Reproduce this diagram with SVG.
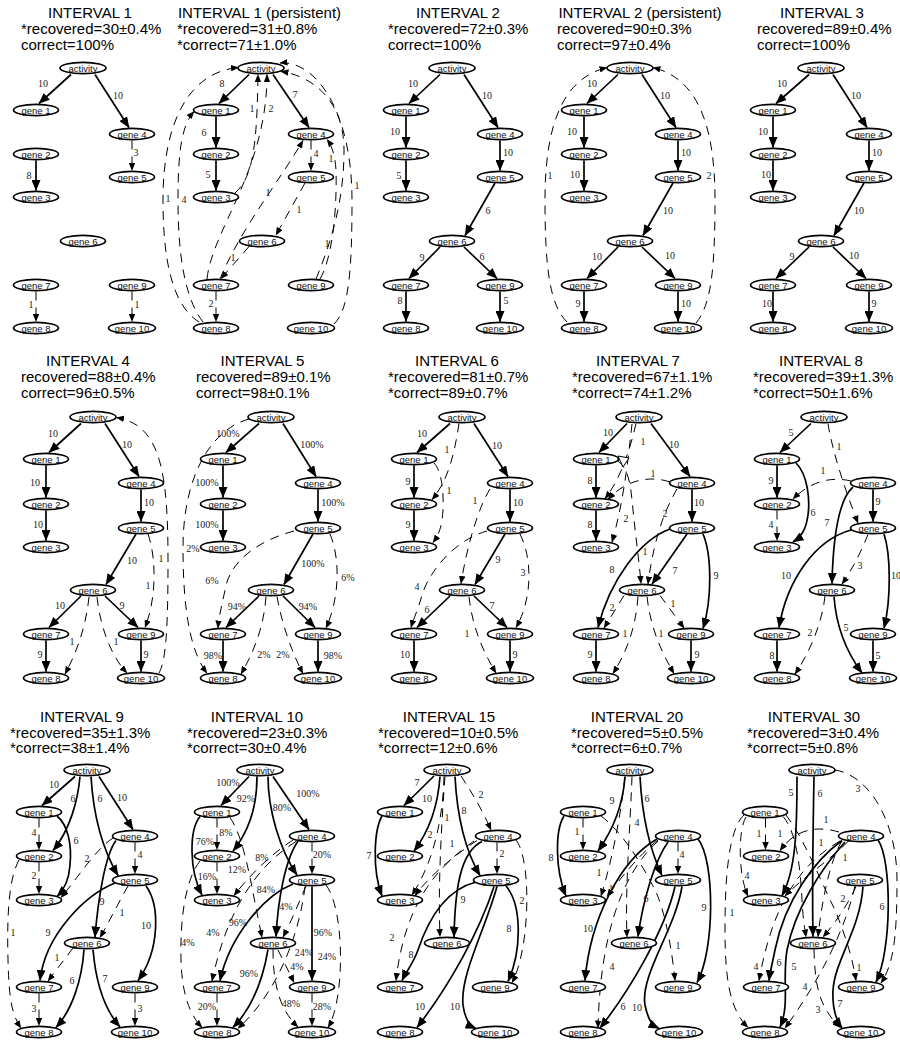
<svg xmlns="http://www.w3.org/2000/svg" width="900" height="1051" viewBox="0 0 900 1051">
<defs>
<style>
.s{fill:none;stroke:#000;stroke-width:1.7;marker-end:url(#as)}
.d{fill:none;stroke:#000;stroke-width:1;stroke-dasharray:9,7;marker-end:url(#ad)}
.nd ellipse{fill:#fff;stroke:#000;stroke-width:1.7}
.nd text{font-family:"Liberation Sans",Arial,sans-serif;font-size:9.5px;text-anchor:middle;dominant-baseline:central;fill:#111}
.l{font-family:"Liberation Serif","Times New Roman",serif;font-size:10px;text-anchor:middle;dominant-baseline:central;fill:#222}
.t{font-family:"Liberation Sans",Arial,sans-serif;font-size:15px;fill:#000}
.tc{text-anchor:middle}
</style>
<marker id="as" viewBox="0 0 11 9" refX="10.5" refY="4.5" markerWidth="11" markerHeight="9" orient="auto" markerUnits="userSpaceOnUse"><path d="M0,0 L11,4.5 L0,9 z" fill="#000"/></marker>
<marker id="ad" viewBox="0 0 8 6.5" refX="7.5" refY="3.25" markerWidth="8" markerHeight="6.5" orient="auto" markerUnits="userSpaceOnUse"><path d="M0,0 L8,3.25 L0,6.5 z" fill="#000"/></marker>
</defs>
<rect width="900" height="1051" fill="#fff"/>

<!-- PANEL 1 -->
<g id="panel1">
<text class="t tc" x="90" y="18">INTERVAL 1</text><text class="t" x="21" y="34">*recovered=30±0.4%</text><text class="t" x="21" y="49.5">correct=100%</text>
<g id="p1-edges">
<path class="s" d="M71,74.5 L39,103.5"/><text class="l" x="43" y="83">10</text>
<path class="s" d="M95,74.5 L129,127.5"/><text class="l" x="118" y="95">10</text>
<path class="s" d="M36,160.5 L36,190.5"/><text class="l" x="29" y="175">8</text>
<path class="d" d="M132,140.5 L132,170.5"/><text class="l" x="136" y="152">3</text>
<path class="d" d="M36,291.5 L36,321.5"/><text class="l" x="31" y="304">1</text>
<path class="d" d="M132,291.5 L132,321.5"/><text class="l" x="137" y="304">1</text>
</g>
<g id="p1-act" class="nd"><ellipse cx="83" cy="68" rx="23" ry="5.7"/><text x="83" y="68">activity</text></g>
<g id="p1-g1" class="nd"><ellipse cx="36" cy="110" rx="22.5" ry="5.7"/><text x="36" y="110">gene 1</text></g>
<g id="p1-g4" class="nd"><ellipse cx="132" cy="134" rx="22.5" ry="5.7"/><text x="132" y="134">gene 4</text></g>
<g id="p1-g2" class="nd"><ellipse cx="36" cy="154" rx="22.5" ry="5.7"/><text x="36" y="154">gene 2</text></g>
<g id="p1-g5" class="nd"><ellipse cx="132" cy="177" rx="22.5" ry="5.7"/><text x="132" y="177">gene 5</text></g>
<g id="p1-g3" class="nd"><ellipse cx="36" cy="197" rx="22.5" ry="5.7"/><text x="36" y="197">gene 3</text></g>
<g id="p1-g6" class="nd"><ellipse cx="83" cy="241" rx="22.5" ry="5.7"/><text x="83" y="241">gene 6</text></g>
<g id="p1-g7" class="nd"><ellipse cx="36" cy="285" rx="22.5" ry="5.7"/><text x="36" y="285">gene 7</text></g>
<g id="p1-g9" class="nd"><ellipse cx="132" cy="285" rx="22.5" ry="5.7"/><text x="132" y="285">gene 9</text></g>
<g id="p1-g8" class="nd"><ellipse cx="36" cy="328" rx="22.5" ry="5.7"/><text x="36" y="328">gene 8</text></g>
<g id="p1-g10" class="nd"><ellipse cx="132" cy="328" rx="23.5" ry="5.7"/><text x="132" y="328">gene 10</text></g>
</g>

<!-- PANEL 2 -->
<g id="panel2">
<text class="t tc" x="259.5" y="18">INTERVAL 1 (persistent)</text><text class="t" x="177" y="34">*recovered=31±0.8%</text><text class="t" x="177" y="49.5">*correct=71±1.0%</text>
<g id="p2-edges">
<path class="s" d="M249,74.5 L219,103.5"/><text class="l" x="222" y="83">8</text>
<path class="s" d="M273,74.5 L309,127.5"/><text class="l" x="295" y="94">7</text>
<path class="s" d="M216,116.5 L216,147.5"/><text class="l" x="204" y="132">6</text>
<path class="s" d="M216,160.5 L216,190.5"/><text class="l" x="208" y="174">5</text>
<path class="d" d="M311,140.5 L311,170.5"/><text class="l" x="316" y="153">4</text>
<path class="d" d="M305,183 L276,235"/><text class="l" x="299" y="209">1</text>
<path class="d" d="M249,246.5 L221,278.5"/><text class="l" x="233" y="257">1</text>
<path class="d" d="M216,291.5 L216,321.5"/><text class="l" x="211" y="303">2</text>
<path class="d" d="M235,193 C252,178 257,150 258,74.5"/><text class="l" x="252" y="108">1</text>
<path class="d" d="M207,279 C212,230 267,170 267,74.5"/><text class="l" x="271" y="108">2</text>
<path class="d" d="M220,279 C240,230 280,180 303,140.5"/><text class="l" x="268" y="192">1</text>
<path class="d" d="M199,322 C172,305 163,260 163,200 C163,120 190,72 238.5,67.5"/><text class="l" x="168" y="198">1</text>
<path class="d" d="M203,322 C186,300 178,260 178,200 C178,150 182,125 194,111.5"/><text class="l" x="184" y="199">4</text>
<path class="d" d="M320,279 C334,255 337,200 336,170 C335,155 332,146 327,139.5"/><text class="l" x="331" y="158">1</text>
<path class="d" d="M316,279 C332,240 344,200 344,150 C344,100 312,76 281,71.5"/><text class="l" x="327" y="243">1</text>
<path class="d" d="M334,324 C349,310 352,270 352,200 C352,110 315,60 280,63"/><text class="l" x="357" y="185">1</text>
</g>
<g id="p2-act" class="nd"><ellipse cx="261" cy="68" rx="23" ry="5.7"/><text x="261" y="68">activity</text></g>
<g id="p2-g1" class="nd"><ellipse cx="216" cy="110" rx="22.5" ry="5.7"/><text x="216" y="110">gene 1</text></g>
<g id="p2-g4" class="nd"><ellipse cx="311" cy="134" rx="22.5" ry="5.7"/><text x="311" y="134">gene 4</text></g>
<g id="p2-g2" class="nd"><ellipse cx="216" cy="154" rx="22.5" ry="5.7"/><text x="216" y="154">gene 2</text></g>
<g id="p2-g5" class="nd"><ellipse cx="311" cy="177" rx="22.5" ry="5.7"/><text x="311" y="177">gene 5</text></g>
<g id="p2-g3" class="nd"><ellipse cx="216" cy="197" rx="22.5" ry="5.7"/><text x="216" y="197">gene 3</text></g>
<g id="p2-g6" class="nd"><ellipse cx="262" cy="241" rx="22.5" ry="5.7"/><text x="262" y="241">gene 6</text></g>
<g id="p2-g7" class="nd"><ellipse cx="216" cy="285" rx="22.5" ry="5.7"/><text x="216" y="285">gene 7</text></g>
<g id="p2-g9" class="nd"><ellipse cx="311" cy="285" rx="22.5" ry="5.7"/><text x="311" y="285">gene 9</text></g>
<g id="p2-g8" class="nd"><ellipse cx="216" cy="328" rx="22.5" ry="5.7"/><text x="216" y="328">gene 8</text></g>
<g id="p2-g10" class="nd"><ellipse cx="311" cy="328" rx="23.5" ry="5.7"/><text x="311" y="328">gene 10</text></g>
</g>

<!-- PANEL 3 -->
<g id="panel3">
<text class="t tc" x="458" y="18">INTERVAL 2</text><text class="t" x="388" y="34">*recovered=72±0.3%</text><text class="t" x="388" y="49.5">correct=100%</text>
<g id="p3-edges">
<path class="s" d="M440,74.5 L409,103.5"/><text class="l" x="413" y="83">10</text>
<path class="s" d="M464,74.5 L498,127.5"/><text class="l" x="487" y="95">10</text>
<path class="s" d="M406,116.5 L406,147.5"/><text class="l" x="395" y="131">10</text>
<path class="s" d="M406,160.5 L406,190.5"/><text class="l" x="399" y="175">5</text>
<path class="s" d="M500,140.5 L500,170.5"/><text class="l" x="508" y="152">10</text>
<path class="s" d="M495,183 L465,235.5"/><text class="l" x="488" y="210">6</text>
<path class="s" d="M440,247 L409,278.5"/><text class="l" x="422" y="257">9</text>
<path class="s" d="M464,247 L497,278.5"/><text class="l" x="482" y="256">6</text>
<path class="s" d="M406,291.5 L406,321.5"/><text class="l" x="400" y="300">8</text>
<path class="s" d="M500,291.5 L500,321.5"/><text class="l" x="506" y="300">5</text>
</g>
<g id="p3-act" class="nd"><ellipse cx="452" cy="68" rx="23" ry="5.7"/><text x="452" y="68">activity</text></g>
<g id="p3-g1" class="nd"><ellipse cx="406" cy="110" rx="22.5" ry="5.7"/><text x="406" y="110">gene 1</text></g>
<g id="p3-g4" class="nd"><ellipse cx="500" cy="134" rx="22.5" ry="5.7"/><text x="500" y="134">gene 4</text></g>
<g id="p3-g2" class="nd"><ellipse cx="406" cy="154" rx="22.5" ry="5.7"/><text x="406" y="154">gene 2</text></g>
<g id="p3-g5" class="nd"><ellipse cx="500" cy="177" rx="22.5" ry="5.7"/><text x="500" y="177">gene 5</text></g>
<g id="p3-g3" class="nd"><ellipse cx="406" cy="197" rx="22.5" ry="5.7"/><text x="406" y="197">gene 3</text></g>
<g id="p3-g6" class="nd"><ellipse cx="452" cy="241" rx="22.5" ry="5.7"/><text x="452" y="241">gene 6</text></g>
<g id="p3-g7" class="nd"><ellipse cx="406" cy="285" rx="22.5" ry="5.7"/><text x="406" y="285">gene 7</text></g>
<g id="p3-g9" class="nd"><ellipse cx="500" cy="285" rx="22.5" ry="5.7"/><text x="500" y="285">gene 9</text></g>
<g id="p3-g8" class="nd"><ellipse cx="406" cy="328" rx="22.5" ry="5.7"/><text x="406" y="328">gene 8</text></g>
<g id="p3-g10" class="nd"><ellipse cx="500" cy="328" rx="23.5" ry="5.7"/><text x="500" y="328">gene 10</text></g>
</g>

<!-- PANEL 4 -->
<g id="panel4">
<text class="t tc" x="640" y="18">INTERVAL 2 (persistent)</text><text class="t" x="557" y="34">recovered=90±0.3%</text><text class="t" x="557" y="49.5">correct=97±0.4%</text>
<g id="p4-edges">
<path class="s" d="M618,74.5 L587,103.5"/><text class="l" x="592" y="83">10</text>
<path class="s" d="M642,74.5 L676,127.5"/><text class="l" x="665" y="95">10</text>
<path class="s" d="M584,116.5 L584,147.5"/><text class="l" x="572" y="131">10</text>
<path class="s" d="M584,160.5 L584,190.5"/><text class="l" x="575" y="174">10</text>
<path class="s" d="M678,140.5 L678,170.5"/><text class="l" x="686" y="152">10</text>
<path class="s" d="M673,183 L643,235.5"/><text class="l" x="668" y="210">10</text>
<path class="s" d="M618,247 L587,278.5"/><text class="l" x="597" y="256">10</text>
<path class="s" d="M642,247 L675,278.5"/><text class="l" x="670" y="255">10</text>
<path class="s" d="M584,291.5 L584,321.5"/><text class="l" x="578" y="303">9</text>
<path class="s" d="M678,291.5 L678,321.5"/><text class="l" x="686" y="303">10</text>
<path class="d" d="M567,322 C550,305 545,270 545,200 C545,120 565,78 607,67.5"/><text class="l" x="550" y="175">1</text>
<path class="d" d="M696,323 C711,305 715,270 715,200 C715,120 695,78 653,67.5"/><text class="l" x="709" y="175">2</text>
</g>
<g id="p4-act" class="nd"><ellipse cx="630" cy="68" rx="23" ry="5.7"/><text x="630" y="68">activity</text></g>
<g id="p4-g1" class="nd"><ellipse cx="584" cy="110" rx="22.5" ry="5.7"/><text x="584" y="110">gene 1</text></g>
<g id="p4-g4" class="nd"><ellipse cx="678" cy="134" rx="22.5" ry="5.7"/><text x="678" y="134">gene 4</text></g>
<g id="p4-g2" class="nd"><ellipse cx="584" cy="154" rx="22.5" ry="5.7"/><text x="584" y="154">gene 2</text></g>
<g id="p4-g5" class="nd"><ellipse cx="678" cy="177" rx="22.5" ry="5.7"/><text x="678" y="177">gene 5</text></g>
<g id="p4-g3" class="nd"><ellipse cx="584" cy="197" rx="22.5" ry="5.7"/><text x="584" y="197">gene 3</text></g>
<g id="p4-g6" class="nd"><ellipse cx="630" cy="241" rx="22.5" ry="5.7"/><text x="630" y="241">gene 6</text></g>
<g id="p4-g7" class="nd"><ellipse cx="584" cy="285" rx="22.5" ry="5.7"/><text x="584" y="285">gene 7</text></g>
<g id="p4-g9" class="nd"><ellipse cx="678" cy="285" rx="22.5" ry="5.7"/><text x="678" y="285">gene 9</text></g>
<g id="p4-g8" class="nd"><ellipse cx="584" cy="328" rx="22.5" ry="5.7"/><text x="584" y="328">gene 8</text></g>
<g id="p4-g10" class="nd"><ellipse cx="678" cy="328" rx="23.5" ry="5.7"/><text x="678" y="328">gene 10</text></g>
</g>

<!-- PANEL 5 -->
<g id="panel5">
<text class="t tc" x="822" y="18">INTERVAL 3</text><text class="t" x="757" y="34">recovered=89±0.4%</text><text class="t" x="757" y="49.5">correct=100%</text>
<g id="p5-edges">
<path class="s" d="M809,74.5 L776,103.5"/><text class="l" x="782" y="83">10</text>
<path class="s" d="M833,74.5 L867,127.5"/><text class="l" x="856" y="95">10</text>
<path class="s" d="M773,116.5 L773,147.5"/><text class="l" x="763" y="131">10</text>
<path class="s" d="M773,160.5 L773,190.5"/><text class="l" x="766" y="174">10</text>
<path class="s" d="M869,140.5 L869,170.5"/><text class="l" x="877" y="152">10</text>
<path class="s" d="M864,183 L834,235.5"/><text class="l" x="859" y="210">10</text>
<path class="s" d="M809,247 L776,278.5"/><text class="l" x="792" y="256">9</text>
<path class="s" d="M833,247 L866,278.5"/><text class="l" x="854" y="255">10</text>
<path class="s" d="M773,291.5 L773,321.5"/><text class="l" x="767" y="303">10</text>
<path class="s" d="M869,291.5 L869,321.5"/><text class="l" x="874" y="303">9</text>
</g>
<g id="p5-act" class="nd"><ellipse cx="821" cy="68" rx="23" ry="5.7"/><text x="821" y="68">activity</text></g>
<g id="p5-g1" class="nd"><ellipse cx="773" cy="110" rx="22.5" ry="5.7"/><text x="773" y="110">gene 1</text></g>
<g id="p5-g4" class="nd"><ellipse cx="869" cy="134" rx="22.5" ry="5.7"/><text x="869" y="134">gene 4</text></g>
<g id="p5-g2" class="nd"><ellipse cx="773" cy="154" rx="22.5" ry="5.7"/><text x="773" y="154">gene 2</text></g>
<g id="p5-g5" class="nd"><ellipse cx="869" cy="177" rx="22.5" ry="5.7"/><text x="869" y="177">gene 5</text></g>
<g id="p5-g3" class="nd"><ellipse cx="773" cy="197" rx="22.5" ry="5.7"/><text x="773" y="197">gene 3</text></g>
<g id="p5-g6" class="nd"><ellipse cx="821" cy="241" rx="22.5" ry="5.7"/><text x="821" y="241">gene 6</text></g>
<g id="p5-g7" class="nd"><ellipse cx="773" cy="285" rx="22.5" ry="5.7"/><text x="773" y="285">gene 7</text></g>
<g id="p5-g9" class="nd"><ellipse cx="869" cy="285" rx="22.5" ry="5.7"/><text x="869" y="285">gene 9</text></g>
<g id="p5-g8" class="nd"><ellipse cx="773" cy="328" rx="22.5" ry="5.7"/><text x="773" y="328">gene 8</text></g>
<g id="p5-g10" class="nd"><ellipse cx="869" cy="328" rx="23.5" ry="5.7"/><text x="869" y="328">gene 10</text></g>
</g>

<!-- PANEL 6 -->
<g id="panel6">
<text class="t tc" x="88" y="366">INTERVAL 4</text><text class="t" x="21" y="382">recovered=88±0.4%</text><text class="t" x="21" y="398">correct=96±0.5%</text>
<g id="p6-edges">
<path class="s" d="M81,423.5 L49,452.5"/><text class="l" x="53" y="433">10</text>
<path class="s" d="M105,423.5 L139,476.5"/><text class="l" x="127" y="444">10</text>
<path class="s" d="M46,465.5 L46,497.5"/><text class="l" x="35" y="482">10</text>
<path class="s" d="M46,510.5 L46,540.5"/><text class="l" x="38" y="524">10</text>
<path class="s" d="M141,489.5 L141,521.5"/><text class="l" x="149" y="502">10</text>
<path class="s" d="M136,534 L106,584.5"/><text class="l" x="132" y="560">10</text>
<path class="s" d="M81,596 L49,627.5"/><text class="l" x="60" y="605">10</text>
<path class="s" d="M105,596 L138,627.5"/><text class="l" x="122" y="605">9</text>
<path class="s" d="M46,640.5 L46,671.5"/><text class="l" x="40" y="654">9</text>
<path class="s" d="M141,640.5 L141,671.5"/><text class="l" x="146" y="654">9</text>
<path class="d" d="M159,673 C166,660 168,630 168,560 C168,470 160,425 116.5,417.5"/><text class="l" x="161" y="558">1</text>
<path class="d" d="M148,534 C157,560 156,600 145,627.5"/><text class="l" x="148" y="585">1</text>
<path class="d" d="M89,597 C86,625 78,650 65,674"/><text class="l" x="72" y="641">1</text>
<path class="d" d="M97,597 C100,625 110,655 127,673"/><text class="l" x="116" y="641">1</text>
</g>
<g id="p6-act" class="nd"><ellipse cx="93" cy="417" rx="23" ry="5.7"/><text x="93" y="417">activity</text></g>
<g id="p6-g1" class="nd"><ellipse cx="46" cy="459" rx="22.5" ry="5.7"/><text x="46" y="459">gene 1</text></g>
<g id="p6-g4" class="nd"><ellipse cx="141" cy="483" rx="22.5" ry="5.7"/><text x="141" y="483">gene 4</text></g>
<g id="p6-g2" class="nd"><ellipse cx="46" cy="504" rx="22.5" ry="5.7"/><text x="46" y="504">gene 2</text></g>
<g id="p6-g5" class="nd"><ellipse cx="141" cy="528" rx="22.5" ry="5.7"/><text x="141" y="528">gene 5</text></g>
<g id="p6-g3" class="nd"><ellipse cx="46" cy="547" rx="22.5" ry="5.7"/><text x="46" y="547">gene 3</text></g>
<g id="p6-g6" class="nd"><ellipse cx="93" cy="590" rx="22.5" ry="5.7"/><text x="93" y="590">gene 6</text></g>
<g id="p6-g7" class="nd"><ellipse cx="46" cy="634" rx="22.5" ry="5.7"/><text x="46" y="634">gene 7</text></g>
<g id="p6-g9" class="nd"><ellipse cx="141" cy="634" rx="22.5" ry="5.7"/><text x="141" y="634">gene 9</text></g>
<g id="p6-g8" class="nd"><ellipse cx="46" cy="678" rx="22.5" ry="5.7"/><text x="46" y="678">gene 8</text></g>
<g id="p6-g10" class="nd"><ellipse cx="141" cy="678" rx="23.5" ry="5.7"/><text x="141" y="678">gene 10</text></g>
</g>

<!-- PANEL 7 -->
<g id="panel7">
<text class="t tc" x="262.5" y="366">INTERVAL 5</text><text class="t" x="196" y="382">recovered=89±0.1%</text><text class="t" x="196" y="398">correct=98±0.1%</text>
<g id="p7-edges">
<path class="s" d="M259,423.5 L226,452.5"/><text class="l" x="228" y="433">100%</text>
<path class="s" d="M283,423.5 L316,476.5"/><text class="l" x="312" y="444">100%</text>
<path class="s" d="M223,465.5 L223,497.5"/><text class="l" x="207" y="482">100%</text>
<path class="s" d="M223,510.5 L223,540.5"/><text class="l" x="207" y="524">100%</text>
<path class="s" d="M318,489.5 L318,521.5"/><text class="l" x="333" y="502">100%</text>
<path class="s" d="M313,534 L284,584.5"/><text class="l" x="313" y="563">100%</text>
<path class="s" d="M259,596 L226,627.5"/><text class="l" x="237" y="606">94%</text>
<path class="s" d="M283,596 L315,627.5"/><text class="l" x="308" y="606">94%</text>
<path class="s" d="M223,640.5 L223,671.5"/><text class="l" x="213" y="655">98%</text>
<path class="s" d="M318,640.5 L318,671.5"/><text class="l" x="333" y="655">98%</text>
<path class="d" d="M249,419 C215,428 183,470 183,548 C183,620 193,655 207,673"/><text class="l" x="193" y="548">2%</text>
<path class="d" d="M294,531 C260,540 230,560 225,590 C222,605 219,615 218,628"/><text class="l" x="212" y="580">6%</text>
<path class="d" d="M330,534 C341,560 339,600 326,628"/><text class="l" x="348" y="577">6%</text>
<path class="d" d="M266,596.5 C264,625 255,650 241,674"/><text class="l" x="264" y="654">2%</text>
<path class="d" d="M277,596.5 C282,625 293,655 303,673.5"/><text class="l" x="283" y="654">2%</text>
</g>
<g id="p7-act" class="nd"><ellipse cx="271" cy="417" rx="23" ry="5.7"/><text x="271" y="417">activity</text></g>
<g id="p7-g1" class="nd"><ellipse cx="223" cy="459" rx="22.5" ry="5.7"/><text x="223" y="459">gene 1</text></g>
<g id="p7-g4" class="nd"><ellipse cx="318" cy="483" rx="22.5" ry="5.7"/><text x="318" y="483">gene 4</text></g>
<g id="p7-g2" class="nd"><ellipse cx="223" cy="504" rx="22.5" ry="5.7"/><text x="223" y="504">gene 2</text></g>
<g id="p7-g5" class="nd"><ellipse cx="318" cy="528" rx="22.5" ry="5.7"/><text x="318" y="528">gene 5</text></g>
<g id="p7-g3" class="nd"><ellipse cx="223" cy="547" rx="22.5" ry="5.7"/><text x="223" y="547">gene 3</text></g>
<g id="p7-g6" class="nd"><ellipse cx="271" cy="590" rx="22.5" ry="5.7"/><text x="271" y="590">gene 6</text></g>
<g id="p7-g7" class="nd"><ellipse cx="223" cy="634" rx="22.5" ry="5.7"/><text x="223" y="634">gene 7</text></g>
<g id="p7-g9" class="nd"><ellipse cx="318" cy="634" rx="22.5" ry="5.7"/><text x="318" y="634">gene 9</text></g>
<g id="p7-g8" class="nd"><ellipse cx="223" cy="678" rx="22.5" ry="5.7"/><text x="223" y="678">gene 8</text></g>
<g id="p7-g10" class="nd"><ellipse cx="318" cy="678" rx="23.5" ry="5.7"/><text x="318" y="678">gene 10</text></g>
</g>

<!-- PANEL 8 -->
<g id="panel8">
<text class="t tc" x="457" y="366">INTERVAL 6</text><text class="t" x="388" y="382">*recovered=81±0.7%</text><text class="t" x="388" y="398">*correct=89±0.7%</text>
<g id="p8-edges">
<path class="s" d="M450,423.5 L417,452.5"/><text class="l" x="422" y="433">10</text>
<path class="s" d="M474,423.5 L508,476.5"/><text class="l" x="497" y="445">10</text>
<path class="s" d="M414,465.5 L414,497.5"/><text class="l" x="408" y="481">9</text>
<path class="s" d="M414,510.5 L414,540.5"/><text class="l" x="408" y="524">9</text>
<path class="s" d="M510,489.5 L510,521.5"/><text class="l" x="518" y="502">10</text>
<path class="s" d="M505,534 L475,584.5"/><text class="l" x="498" y="559">9</text>
<path class="s" d="M450,596 L417,627.5"/><text class="l" x="427" y="609">6</text>
<path class="s" d="M474,596 L507,627.5"/><text class="l" x="492" y="605">7</text>
<path class="s" d="M414,640.5 L414,671.5"/><text class="l" x="405" y="654">10</text>
<path class="s" d="M510,640.5 L510,671.5"/><text class="l" x="515" y="654">9</text>
<path class="d" d="M459,423.5 C455,450 449,480 432,499.5"/><text class="l" x="447" y="449">1</text>
<path class="d" d="M434,463 C441,470 444,490 443,510 C442,525 440,533 433,542.5"/><text class="l" x="449" y="490">1</text>
<path class="d" d="M490,489 C480,505 468,540 461,583.5"/><text class="l" x="475" y="500">1</text>
<path class="d" d="M487,531 C455,540 430,570 422,595 C418,610 413,620 411,627.5"/><text class="l" x="417" y="586">4</text>
<path class="d" d="M520,534 C533,560 532,600 516,627.5"/><text class="l" x="523" y="572">3</text>
<path class="d" d="M469,596.5 C472,625 482,650 496,673"/><text class="l" x="467" y="633">1</text>
</g>
<g id="p8-act" class="nd"><ellipse cx="462" cy="417" rx="23" ry="5.7"/><text x="462" y="417">activity</text></g>
<g id="p8-g1" class="nd"><ellipse cx="414" cy="459" rx="22.5" ry="5.7"/><text x="414" y="459">gene 1</text></g>
<g id="p8-g4" class="nd"><ellipse cx="510" cy="483" rx="22.5" ry="5.7"/><text x="510" y="483">gene 4</text></g>
<g id="p8-g2" class="nd"><ellipse cx="414" cy="504" rx="22.5" ry="5.7"/><text x="414" y="504">gene 2</text></g>
<g id="p8-g5" class="nd"><ellipse cx="510" cy="528" rx="22.5" ry="5.7"/><text x="510" y="528">gene 5</text></g>
<g id="p8-g3" class="nd"><ellipse cx="414" cy="547" rx="22.5" ry="5.7"/><text x="414" y="547">gene 3</text></g>
<g id="p8-g6" class="nd"><ellipse cx="462" cy="590" rx="22.5" ry="5.7"/><text x="462" y="590">gene 6</text></g>
<g id="p8-g7" class="nd"><ellipse cx="414" cy="634" rx="22.5" ry="5.7"/><text x="414" y="634">gene 7</text></g>
<g id="p8-g9" class="nd"><ellipse cx="510" cy="634" rx="22.5" ry="5.7"/><text x="510" y="634">gene 9</text></g>
<g id="p8-g8" class="nd"><ellipse cx="414" cy="678" rx="22.5" ry="5.7"/><text x="414" y="678">gene 8</text></g>
<g id="p8-g10" class="nd"><ellipse cx="510" cy="678" rx="23.5" ry="5.7"/><text x="510" y="678">gene 10</text></g>
</g>

<!-- PANEL 9 -->
<g id="panel9">
<text class="t tc" x="638" y="366">INTERVAL 7</text><text class="t" x="572" y="382">*recovered=67±1.1%</text><text class="t" x="572" y="398">*correct=74±1.2%</text>
<g id="p9-edges">
<path class="s" d="M627,423.5 L599,452.5"/><text class="l" x="608" y="432">10</text>
<path class="s" d="M651,423.5 L690,476.5"/><text class="l" x="674" y="444">10</text>
<path class="s" d="M596,465.5 L596,497.5"/><text class="l" x="590" y="480">8</text>
<path class="s" d="M596,510.5 L596,540.5"/><text class="l" x="590" y="524">8</text>
<path class="s" d="M692,489.5 L692,521.5"/><text class="l" x="699" y="502">10</text>
<path class="s" d="M687,534 L652,584"/><text class="l" x="675" y="570">7</text>
<path class="s" d="M670,529 C640,540 610,580 598,627.5"/><text class="l" x="612" y="569">8</text>
<path class="s" d="M703,534 C712,555 712,600 703,628.5"/><text class="l" x="716" y="575">9</text>
<path class="s" d="M596,640.5 L596,671.5"/><text class="l" x="590" y="654">9</text>
<path class="s" d="M691,640.5 L691,671.5"/><text class="l" x="697" y="654">9</text>
<path class="d" d="M636,423.5 C630,450 620,480 605,498.5"/><text class="l" x="643" y="441">1</text>
<path class="d" d="M670,482 C650,475 625,480 608,499.5"/><text class="l" x="653" y="473">1</text>
<path class="d" d="M632,424 C628,460 624,500 612,542"/><text class="l" x="626" y="518">2</text>
<path class="d" d="M618,461 C630,470 631,490 633,510 C636,540 639,560 641,583.5"/><text class="l" x="645" y="551">1</text>
<polygon points="618,456 629,458 623,467" fill="#fff" stroke="#000" stroke-width="1"/>
<path class="d" d="M677,489 C668,505 655,530 648,584"/><text class="l" x="665" y="513">2</text>
<path class="d" d="M624,595.5 L604,628"/><text class="l" x="612" y="607">2</text>
<path class="d" d="M660,595.5 L684,628"/><text class="l" x="673" y="603">1</text>
<path class="d" d="M638,596.5 C636,625 628,650 613,673.5"/><text class="l" x="625" y="633">1</text>
<path class="d" d="M647,596.5 C650,625 660,650 674,673.5"/><text class="l" x="661" y="633">1</text>
</g>
<g id="p9-act" class="nd"><ellipse cx="639" cy="417" rx="23" ry="5.7"/><text x="639" y="417">activity</text></g>
<g id="p9-g1" class="nd"><ellipse cx="596" cy="459" rx="22.5" ry="5.7"/><text x="596" y="459">gene 1</text></g>
<g id="p9-g4" class="nd"><ellipse cx="692" cy="483" rx="22.5" ry="5.7"/><text x="692" y="483">gene 4</text></g>
<g id="p9-g2" class="nd"><ellipse cx="596" cy="504" rx="22.5" ry="5.7"/><text x="596" y="504">gene 2</text></g>
<g id="p9-g5" class="nd"><ellipse cx="692" cy="528" rx="22.5" ry="5.7"/><text x="692" y="528">gene 5</text></g>
<g id="p9-g3" class="nd"><ellipse cx="596" cy="547" rx="22.5" ry="5.7"/><text x="596" y="547">gene 3</text></g>
<g id="p9-g6" class="nd"><ellipse cx="642" cy="590" rx="22.5" ry="5.7"/><text x="642" y="590">gene 6</text></g>
<g id="p9-g7" class="nd"><ellipse cx="596" cy="634" rx="22.5" ry="5.7"/><text x="596" y="634">gene 7</text></g>
<g id="p9-g9" class="nd"><ellipse cx="691" cy="634" rx="22.5" ry="5.7"/><text x="691" y="634">gene 9</text></g>
<g id="p9-g8" class="nd"><ellipse cx="596" cy="678" rx="22.5" ry="5.7"/><text x="596" y="678">gene 8</text></g>
<g id="p9-g10" class="nd"><ellipse cx="691" cy="678" rx="23.5" ry="5.7"/><text x="691" y="678">gene 10</text></g>
</g>

<!-- PANEL 10 -->
<g id="panel10">
<text class="t tc" x="821" y="366">INTERVAL 8</text><text class="t" x="753" y="382">*recovered=39±1.3%</text><text class="t" x="753" y="398">*correct=50±1.6%</text>
<g id="p10-edges">
<path class="s" d="M811,423.5 L780,452.5"/><text class="l" x="791" y="432">5</text>
<path class="s" d="M777,465.5 L777,497.5"/><text class="l" x="771" y="480">9</text>
<path class="s" d="M796,463 C808,475 810,500 808,515 C806,530 801,537 793,542"/><text class="l" x="813" y="512">6</text>
<path class="s" d="M873,489.5 L873,521.5"/><text class="l" x="878" y="501">9</text>
<path class="s" d="M853,487 C838,500 833,540 832,583.5"/><text class="l" x="827" y="522">7</text>
<path class="s" d="M851,530 C815,540 787,580 779,627.5"/><text class="l" x="786" y="575">10</text>
<path class="s" d="M884,534 C891,555 891,600 884,628"/><text class="l" x="896" y="575">10</text>
<path class="s" d="M834,596.5 C836,625 845,650 862,673"/><text class="l" x="846" y="627">5</text>
<path class="s" d="M777,640.5 L777,671.5"/><text class="l" x="772" y="655">8</text>
<path class="s" d="M873,640.5 L873,671.5"/><text class="l" x="878" y="655">5</text>
<path class="d" d="M828,423.5 C832,450 845,490 858,523"/><text class="l" x="839" y="446">1</text>
<path class="d" d="M777,510.5 L777,540.5"/><text class="l" x="771" y="524">4</text>
<path class="d" d="M851,481 C830,476 810,482 793,499"/><text class="l" x="823" y="470">1</text>
<path class="d" d="M868,534.5 C862,550 852,570 842,584"/><text class="l" x="860" y="565">3</text>
<path class="d" d="M825,596 C822,625 808,655 795,674"/><text class="l" x="810" y="632">2</text>
</g>
<g id="p10-act" class="nd"><ellipse cx="824" cy="417" rx="23" ry="5.7"/><text x="824" y="417">activity</text></g>
<g id="p10-g1" class="nd"><ellipse cx="777" cy="459" rx="22.5" ry="5.7"/><text x="777" y="459">gene 1</text></g>
<g id="p10-g4" class="nd"><ellipse cx="873" cy="483" rx="22.5" ry="5.7"/><text x="873" y="483">gene 4</text></g>
<g id="p10-g2" class="nd"><ellipse cx="777" cy="504" rx="22.5" ry="5.7"/><text x="777" y="504">gene 2</text></g>
<g id="p10-g5" class="nd"><ellipse cx="873" cy="528" rx="22.5" ry="5.7"/><text x="873" y="528">gene 5</text></g>
<g id="p10-g3" class="nd"><ellipse cx="777" cy="547" rx="22.5" ry="5.7"/><text x="777" y="547">gene 3</text></g>
<g id="p10-g6" class="nd"><ellipse cx="832" cy="590" rx="22.5" ry="5.7"/><text x="832" y="590">gene 6</text></g>
<g id="p10-g7" class="nd"><ellipse cx="777" cy="634" rx="22.5" ry="5.7"/><text x="777" y="634">gene 7</text></g>
<g id="p10-g9" class="nd"><ellipse cx="873" cy="634" rx="22.5" ry="5.7"/><text x="873" y="634">gene 9</text></g>
<g id="p10-g8" class="nd"><ellipse cx="777" cy="678" rx="22.5" ry="5.7"/><text x="777" y="678">gene 8</text></g>
<g id="p10-g10" class="nd"><ellipse cx="873" cy="678" rx="23.5" ry="5.7"/><text x="873" y="678">gene 10</text></g>
</g>

<!-- PANEL 11 -->
<g id="panel11">
<text class="t tc" x="82" y="722">INTERVAL 9</text><text class="t" x="10" y="738">*recovered=35±1.3%</text><text class="t" x="10" y="753">*correct=38±1.4%</text>
<g id="p11-edges">
<path class="s" d="M75,776.5 L42,805.5"/><text class="l" x="54" y="784">10</text>
<path class="s" d="M80,776.5 C78,800 70,830 53,850.5"/><text class="l" x="73" y="798">6</text>
<path class="s" d="M91,776.5 C93,810 100,845 118,875.5"/><text class="l" x="100" y="798">6</text>
<path class="s" d="M99,776.5 L133,829.5"/><text class="l" x="122" y="797">10</text>
<path class="s" d="M57,816 C68,825 72,845 70,865 C69,880 65,889 57,896.5"/><text class="l" x="76" y="840">6</text>
<path class="s" d="M116,840.5 C105,855 98,900 95,937"/><text class="l" x="102" y="901">9</text>
<path class="s" d="M115,883 C85,895 45,935 40,980.5"/><text class="l" x="48" y="932">9</text>
<path class="s" d="M146,886 C160,905 160,950 138,980.5"/><text class="l" x="146" y="925">10</text>
<path class="s" d="M84,949.5 C82,980 72,1010 56,1027.5"/><text class="l" x="72" y="980">6</text>
<path class="s" d="M93,949.5 C96,985 105,1010 120,1027"/><text class="l" x="105" y="978">7</text>
<path class="d" d="M39,818.5 L39,849.5"/><text class="l" x="34" y="832">4</text>
<path class="d" d="M39,862.5 L39,893.5"/><text class="l" x="34" y="875">2</text>
<path class="d" d="M113,838 C95,850 80,875 61,897.5"/><text class="l" x="87" y="858">2</text>
<path class="d" d="M135,842.5 L135,873.5"/><text class="l" x="140" y="854">4</text>
<path class="d" d="M128,886 C120,900 110,920 100,937.5"/><text class="l" x="122" y="912">1</text>
<path class="d" d="M73,948 L48,981"/><text class="l" x="57" y="957">1</text>
<path class="d" d="M19,860 C8,880 7,920 8,960 C9,1000 12,1015 21,1028"/><text class="l" x="13" y="932">1</text>
<path class="d" d="M39,993.5 L39,1025.5"/><text class="l" x="34" y="1008">3</text>
<path class="d" d="M135,993.5 L135,1025.5"/><text class="l" x="140" y="1008">3</text>
</g>
<g id="p11-act" class="nd"><ellipse cx="87" cy="770" rx="23" ry="5.7"/><text x="87" y="770">activity</text></g>
<g id="p11-g1" class="nd"><ellipse cx="39" cy="812" rx="22.5" ry="5.7"/><text x="39" y="812">gene 1</text></g>
<g id="p11-g4" class="nd"><ellipse cx="135" cy="836" rx="22.5" ry="5.7"/><text x="135" y="836">gene 4</text></g>
<g id="p11-g2" class="nd"><ellipse cx="39" cy="856" rx="22.5" ry="5.7"/><text x="39" y="856">gene 2</text></g>
<g id="p11-g5" class="nd"><ellipse cx="135" cy="880" rx="22.5" ry="5.7"/><text x="135" y="880">gene 5</text></g>
<g id="p11-g3" class="nd"><ellipse cx="39" cy="900" rx="22.5" ry="5.7"/><text x="39" y="900">gene 3</text></g>
<g id="p11-g6" class="nd"><ellipse cx="87" cy="943" rx="22.5" ry="5.7"/><text x="87" y="943">gene 6</text></g>
<g id="p11-g7" class="nd"><ellipse cx="39" cy="987" rx="22.5" ry="5.7"/><text x="39" y="987">gene 7</text></g>
<g id="p11-g9" class="nd"><ellipse cx="135" cy="987" rx="22.5" ry="5.7"/><text x="135" y="987">gene 9</text></g>
<g id="p11-g8" class="nd"><ellipse cx="39" cy="1032" rx="22.5" ry="5.7"/><text x="39" y="1032">gene 8</text></g>
<g id="p11-g10" class="nd"><ellipse cx="135" cy="1032" rx="23.5" ry="5.7"/><text x="135" y="1032">gene 10</text></g>
</g>

<!-- PANEL 12 -->
<g id="panel12">
<text class="t tc" x="257" y="722">INTERVAL 10</text><text class="t" x="187" y="738">*recovered=23±0.3%</text><text class="t" x="187" y="753">*correct=30±0.4%</text>
<g id="p12-edges">
<path class="s" d="M249,776.5 L221,805.5"/><text class="l" x="228" y="782">100%</text>
<path class="s" d="M257,776.5 C257,805 250,830 233,851"/><text class="l" x="246" y="798">92%</text>
<path class="s" d="M268,776.5 C268,810 280,850 297,875"/><text class="l" x="282" y="807">80%</text>
<path class="s" d="M273,776.5 L309,829.5"/><text class="l" x="308" y="793">100%</text>
<path class="s" d="M200,816.5 C189,830 189,870 202,895"/><text class="l" x="205" y="841">76%</text>
<path class="s" d="M298,841 C285,860 278,900 276,936.5"/><text class="l" x="266" y="889">84%</text>
<path class="s" d="M293,884 C265,895 230,935 220,980.7"/><text class="l" x="238" y="922">96%</text>
<path class="s" d="M312,886.5 L312,980.5"/><text class="l" x="323" y="932">96%</text>
<path class="s" d="M268,949.5 C262,985 250,1010 233,1027.5"/><text class="l" x="249" y="973">96%</text>
<path class="d" d="M217,818.5 L217,849.5"/><text class="l" x="226" y="832">8%</text>
<path class="d" d="M230,817.5 C245,840 250,880 262,937.5"/><text class="l" x="237" y="869">12%</text>
<path class="d" d="M217,862.5 L217,893.5"/><text class="l" x="207" y="876">16%</text>
<path class="d" d="M293,840 C270,855 250,875 234,895.5"/><text class="l" x="262" y="857">8%</text>
<path class="d" d="M312,842.5 L312,873.5"/><text class="l" x="322" y="854">20%</text>
<path class="d" d="M296,841.5 C250,870 225,920 212,981"/><text class="l" x="213" y="932">4%</text>
<path class="d" d="M200,861 C185,880 180,920 181,960 C182,995 190,1015 202,1027.5"/><text class="l" x="188" y="942">4%</text>
<path class="d" d="M306,886 C300,900 292,920 283,937"/><text class="l" x="286" y="906">4%</text>
<path class="d" d="M305,886.5 C300,930 280,990 238,1028.5"/><text class="l" x="304" y="952">24%</text>
<path class="d" d="M326,885 C345,910 345,1000 328,1027.5"/><text class="l" x="327" y="956">24%</text>
<path class="d" d="M278,950 C283,960 288,970 294,982.5"/><text class="l" x="297" y="966">4%</text>
<path class="d" d="M273,949.5 C273,985 280,1010 298,1027"/><text class="l" x="291" y="1003">48%</text>
<path class="d" d="M217,993.5 L217,1025.5"/><text class="l" x="207" y="1006">20%</text>
<path class="d" d="M312,993.5 L312,1025.5"/><text class="l" x="322" y="1006">28%</text>
</g>
<g id="p12-act" class="nd"><ellipse cx="260" cy="770" rx="23" ry="5.7"/><text x="260" y="770">activity</text></g>
<g id="p12-g1" class="nd"><ellipse cx="217" cy="812" rx="22.5" ry="5.7"/><text x="217" y="812">gene 1</text></g>
<g id="p12-g4" class="nd"><ellipse cx="312" cy="836" rx="22.5" ry="5.7"/><text x="312" y="836">gene 4</text></g>
<g id="p12-g2" class="nd"><ellipse cx="217" cy="856" rx="22.5" ry="5.7"/><text x="217" y="856">gene 2</text></g>
<g id="p12-g5" class="nd"><ellipse cx="312" cy="880" rx="22.5" ry="5.7"/><text x="312" y="880">gene 5</text></g>
<g id="p12-g3" class="nd"><ellipse cx="217" cy="900" rx="22.5" ry="5.7"/><text x="217" y="900">gene 3</text></g>
<g id="p12-g6" class="nd"><ellipse cx="273" cy="943" rx="22.5" ry="5.7"/><text x="273" y="943">gene 6</text></g>
<g id="p12-g7" class="nd"><ellipse cx="217" cy="987" rx="22.5" ry="5.7"/><text x="217" y="987">gene 7</text></g>
<g id="p12-g9" class="nd"><ellipse cx="312" cy="987" rx="22.5" ry="5.7"/><text x="312" y="987">gene 9</text></g>
<g id="p12-g8" class="nd"><ellipse cx="217" cy="1032" rx="22.5" ry="5.7"/><text x="217" y="1032">gene 8</text></g>
<g id="p12-g10" class="nd"><ellipse cx="312" cy="1032" rx="23.5" ry="5.7"/><text x="312" y="1032">gene 10</text></g>
</g>

<!-- PANEL 13 -->
<g id="panel13">
<text class="t tc" x="449" y="722">INTERVAL 15</text><text class="t" x="378" y="738">*recovered=10±0.5%</text><text class="t" x="378" y="753">*correct=12±0.6%</text>
<g id="p13-edges">
<path class="s" d="M434,776 L404,805.5"/><text class="l" x="417" y="782">7</text>
<path class="s" d="M440,776.5 C438,805 430,830 414,851"/><text class="l" x="427" y="798">10</text>
<path class="s" d="M455,776.5 C457,815 465,850 480,875.5"/><text class="l" x="464" y="810">8</text>
<path class="s" d="M382,816 C374,830 372,870 382,896"/><text class="l" x="369" y="855">7</text>
<path class="s" d="M482,841.5 C460,852 455,890 454,937"/><text class="l" x="463" y="899">9</text>
<path class="s" d="M476,882 C445,890 428,920 418,950 C414,962 406,972 402,980.5"/><text class="l" x="411" y="954">8</text>
<path class="s" d="M494,886.5 C480,930 450,985 417,1027.5"/><text class="l" x="420" y="1006">10</text>
<path class="s" d="M506,886 C522,905 522,950 508,981.5"/><text class="l" x="509" y="928">8</text>
<path class="s" d="M497,886.5 C485,930 460,975 463,1005 C465,1020 470,1026 476,1028.5"/><text class="l" x="455" y="1006">10</text>
<path class="d" d="M461,776 C470,790 480,805 491,830"/><text class="l" x="481" y="794">2</text>
<path class="d" d="M497,842.5 L497,873.5"/><text class="l" x="502" y="853">2</text>
<path class="d" d="M516,840 C532,860 530,950 512,982.5"/><text class="l" x="522" y="900">2</text>
<path class="d" d="M477,840.5 C455,855 430,875 415,895.5"/><text class="l" x="452" y="843">1</text>
<path class="d" d="M444,776.5 C443,815 435,860 412,895"/><text class="l" x="430" y="834">2</text>
<path class="d" d="M445,776.5 C441,830 438,890 440,936.5"/><text class="l" x="447" y="817">1</text>
<path class="d" d="M474,841 C440,865 405,900 396,980.5"/><text class="l" x="392" y="937">2</text>
</g>
<g id="p13-act" class="nd"><ellipse cx="447" cy="770" rx="23" ry="5.7"/><text x="447" y="770">activity</text></g>
<g id="p13-g1" class="nd"><ellipse cx="400" cy="812" rx="22.5" ry="5.7"/><text x="400" y="812">gene 1</text></g>
<g id="p13-g4" class="nd"><ellipse cx="498" cy="836" rx="22.5" ry="5.7"/><text x="498" y="836">gene 4</text></g>
<g id="p13-g2" class="nd"><ellipse cx="400" cy="856" rx="22.5" ry="5.7"/><text x="400" y="856">gene 2</text></g>
<g id="p13-g5" class="nd"><ellipse cx="496" cy="880" rx="22.5" ry="5.7"/><text x="496" y="880">gene 5</text></g>
<g id="p13-g3" class="nd"><ellipse cx="400" cy="900" rx="22.5" ry="5.7"/><text x="400" y="900">gene 3</text></g>
<g id="p13-g6" class="nd"><ellipse cx="447" cy="943" rx="22.5" ry="5.7"/><text x="447" y="943">gene 6</text></g>
<g id="p13-g7" class="nd"><ellipse cx="400" cy="987" rx="22.5" ry="5.7"/><text x="400" y="987">gene 7</text></g>
<g id="p13-g9" class="nd"><ellipse cx="495" cy="987" rx="22.5" ry="5.7"/><text x="495" y="987">gene 9</text></g>
<g id="p13-g8" class="nd"><ellipse cx="400" cy="1032" rx="22.5" ry="5.7"/><text x="400" y="1032">gene 8</text></g>
<g id="p13-g10" class="nd"><ellipse cx="495" cy="1032" rx="23.5" ry="5.7"/><text x="495" y="1032">gene 10</text></g>
</g>

<!-- PANEL 14 -->
<g id="panel14">
<text class="t tc" x="637" y="722">INTERVAL 20</text><text class="t" x="571" y="738">*recovered=5±0.5%</text><text class="t" x="571" y="753">*correct=6±0.7%</text>
<g id="p14-edges">
<path class="s" d="M625,776.5 C623,805 613,830 598,851"/><text class="l" x="612" y="800">9</text>
<path class="s" d="M640,776.5 C642,815 650,850 662,875.5"/><text class="l" x="647" y="798">6</text>
<path class="s" d="M564,816 C555,830 555,870 566,896"/><text class="l" x="551" y="857">8</text>
<path class="s" d="M657,839 C620,860 590,920 585,980.5"/><text class="l" x="588" y="928">10</text>
<path class="s" d="M668,842 C655,860 643,900 638,936.5"/><text class="l" x="646" y="898">6</text>
<path class="s" d="M698,839 C715,860 715,950 697,982.5"/><text class="l" x="704" y="907">9</text>
<path class="s" d="M675,886.5 C665,930 630,990 600,1028"/><text class="l" x="623" y="1006">6</text>
<path class="s" d="M682,886.5 C675,930 640,975 645,1005 C648,1020 652,1025 659,1028.5"/><text class="l" x="637" y="1007">10</text>
<path class="d" d="M678,842.5 L678,873.5"/><text class="l" x="682" y="854">4</text>
<path class="d" d="M583,818.5 L583,849.5"/><text class="l" x="577" y="831">1</text>
<path class="d" d="M632,776.5 C630,830 625,890 627,937"/><text class="l" x="637" y="822">4</text>
<path class="d" d="M625,777 C620,820 612,860 601,896"/><text class="l" x="599" y="872">1</text>
<path class="d" d="M658,840 C645,850 628,868 607,896.5"/><text class="l" x="611" y="888">1</text>
<path class="d" d="M658,841 C620,875 600,940 598,1028"/><text class="l" x="612" y="966">4</text>
<path class="d" d="M601,816 C620,830 640,860 655,890 C665,910 672,950 675,980.5"/><text class="l" x="678" y="945">1</text>
</g>
<g id="p14-act" class="nd"><ellipse cx="630" cy="770" rx="23" ry="5.7"/><text x="630" y="770">activity</text></g>
<g id="p14-g1" class="nd"><ellipse cx="583" cy="812" rx="22.5" ry="5.7"/><text x="583" y="812">gene 1</text></g>
<g id="p14-g4" class="nd"><ellipse cx="678" cy="836" rx="22.5" ry="5.7"/><text x="678" y="836">gene 4</text></g>
<g id="p14-g2" class="nd"><ellipse cx="583" cy="856" rx="22.5" ry="5.7"/><text x="583" y="856">gene 2</text></g>
<g id="p14-g5" class="nd"><ellipse cx="678" cy="880" rx="22.5" ry="5.7"/><text x="678" y="880">gene 5</text></g>
<g id="p14-g3" class="nd"><ellipse cx="583" cy="900" rx="22.5" ry="5.7"/><text x="583" y="900">gene 3</text></g>
<g id="p14-g6" class="nd"><ellipse cx="634" cy="943" rx="22.5" ry="5.7"/><text x="634" y="943">gene 6</text></g>
<g id="p14-g7" class="nd"><ellipse cx="583" cy="987" rx="22.5" ry="5.7"/><text x="583" y="987">gene 7</text></g>
<g id="p14-g9" class="nd"><ellipse cx="678" cy="987" rx="22.5" ry="5.7"/><text x="678" y="987">gene 9</text></g>
<g id="p14-g8" class="nd"><ellipse cx="583" cy="1032" rx="22.5" ry="5.7"/><text x="583" y="1032">gene 8</text></g>
<g id="p14-g10" class="nd"><ellipse cx="679" cy="1032" rx="23.5" ry="5.7"/><text x="679" y="1032">gene 10</text></g>
</g>

<!-- PANEL 15 -->
<g id="panel15">
<text class="t tc" x="814" y="722">INTERVAL 30</text><text class="t" x="747" y="738">*recovered=3±0.4%</text><text class="t" x="747" y="753">*correct=5±0.8%</text>
<g id="p15-edges">
<path class="s" d="M797,776.5 C797,830 796,870 782,895.5"/><text class="l" x="791" y="792">5</text>
<path class="s" d="M814,776.5 C813,830 812,890 813,936.5"/><text class="l" x="820" y="793">6</text>
<path class="s" d="M842,840.5 C815,860 785,900 775,950 C772,965 770,972 769,980.7"/><text class="l" x="779" y="962">6</text>
<path class="s" d="M845,842 C820,870 795,910 787,950 C782,980 790,1005 780,1027"/><text class="l" x="794" y="966">5</text>
<path class="s" d="M878,840 C892,860 892,950 876,982"/><text class="l" x="882" y="906">6</text>
<path class="s" d="M863,886.5 C860,930 835,960 833,990 C832,1010 836,1020 842,1028"/><text class="l" x="840" y="1003">7</text>
<path class="d" d="M835,770 C868,775 897,820 897,880 C897,940 893,965 881,983"/><text class="l" x="858" y="788">3</text>
<path class="d" d="M765.5,818.5 L765.5,849.5"/><text class="l" x="759" y="833">1</text>
<path class="d" d="M783,816.5 C795,830 800,860 802,900 C803,920 805,930 806,937"/><text class="l" x="780" y="833">1</text>
<path class="d" d="M839,832 C815,825 795,830 780,850.5"/><text class="l" x="826" y="819">1</text>
<path class="d" d="M842,841 C830,860 822,900 818,936.5"/><text class="l" x="821" y="842">1</text>
<path class="d" d="M848,841.5 C830,860 800,880 785,896"/><text class="l" x="845" y="857">1</text>
<path class="d" d="M746,817 C738,830 738,875 748,896"/><text class="l" x="747" y="875">4</text>
<path class="d" d="M744,815 C728,830 725,880 725,930 C725,980 730,1010 748,1027.5"/><text class="l" x="732" y="912">1</text>
<path class="d" d="M856,886.5 C850,900 838,920 823,937"/><text class="l" x="843" y="898">2</text>
<path class="d" d="M840,841 C790,870 770,920 759,980.5"/><text class="l" x="756" y="966">4</text>
<path class="d" d="M855,886 C845,930 820,980 785,1028"/><text class="l" x="805" y="986">4</text>
<path class="d" d="M786,815 C805,840 820,880 835,910 C845,935 852,955 856,980.5"/><text class="l" x="859" y="967">1</text>
<path class="d" d="M814,949.5 C815,985 818,1005 840,1027.5"/><text class="l" x="818" y="1009">3</text>
</g>
<g id="p15-act" class="nd"><ellipse cx="812" cy="770" rx="23" ry="5.7"/><text x="812" y="770">activity</text></g>
<g id="p15-g1" class="nd"><ellipse cx="765" cy="812" rx="22.5" ry="5.7"/><text x="765" y="812">gene 1</text></g>
<g id="p15-g4" class="nd"><ellipse cx="861" cy="836" rx="22.5" ry="5.7"/><text x="861" y="836">gene 4</text></g>
<g id="p15-g2" class="nd"><ellipse cx="766" cy="856" rx="22.5" ry="5.7"/><text x="766" y="856">gene 2</text></g>
<g id="p15-g5" class="nd"><ellipse cx="860" cy="880" rx="22.5" ry="5.7"/><text x="860" y="880">gene 5</text></g>
<g id="p15-g3" class="nd"><ellipse cx="766" cy="900" rx="22.5" ry="5.7"/><text x="766" y="900">gene 3</text></g>
<g id="p15-g6" class="nd"><ellipse cx="813" cy="943" rx="22.5" ry="5.7"/><text x="813" y="943">gene 6</text></g>
<g id="p15-g7" class="nd"><ellipse cx="766" cy="987" rx="22.5" ry="5.7"/><text x="766" y="987">gene 7</text></g>
<g id="p15-g9" class="nd"><ellipse cx="861" cy="987" rx="22.5" ry="5.7"/><text x="861" y="987">gene 9</text></g>
<g id="p15-g8" class="nd"><ellipse cx="765" cy="1032" rx="22.5" ry="5.7"/><text x="765" y="1032">gene 8</text></g>
<g id="p15-g10" class="nd"><ellipse cx="861" cy="1032" rx="23.5" ry="5.7"/><text x="861" y="1032">gene 10</text></g>
</g>
</svg>
